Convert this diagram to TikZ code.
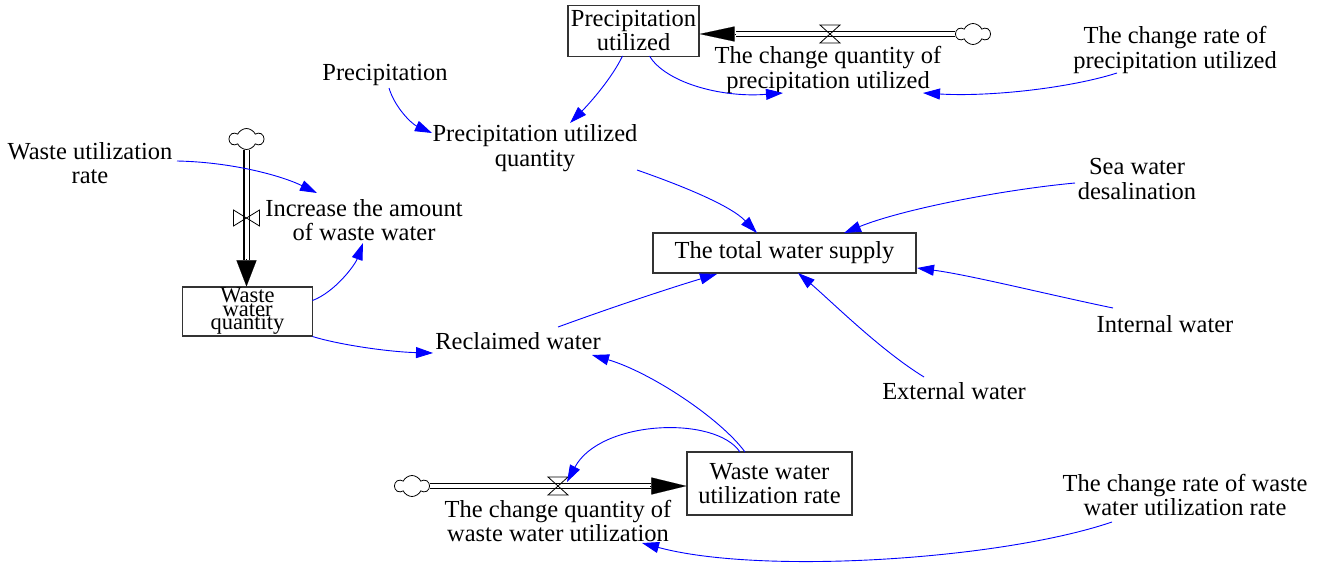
\documentclass[tikz,border=0pt]{standalone}
\usepackage{fontspec}
\setmainfont{Liberation Serif}
\usetikzlibrary{arrows.meta,shapes.symbols}
\tikzset{
  valveH/.pic={\draw[line width=0.8pt] (-10,-9)--(10,-9)--(-10,9)--(10,9)--cycle;},
  valveV/.pic={\draw[line width=0.8pt] (-13,-8)--(-13,8)--(13,-8)--(13,8)--cycle;}
}
\begin{document}
\begin{tikzpicture}[x=1pt,y=-1pt,
  lbl/.style={align=center,inner sep=0pt,font={\fontsize{24.5}{24.5}\selectfont\lineskiplimit=-100pt}},
  stock/.style={draw=black!80,line width=1.2pt,align=center,inner sep=0pt,font={\fontsize{24.5}{24}\selectfont\lineskiplimit=-100pt}},
  link/.style={draw=blue,line width=0.9pt,-{Triangle[length=17pt,width=11pt]}},
  pipe/.style={draw=black,double=white,double distance=4pt,line width=1.1pt},
  cloudsrc/.style={cloud,cloud puffs=6,cloud puff arc=130,draw,line width=0.8pt,minimum width=34pt,minimum height=21pt,inner sep=0pt,aspect=1.6}
]
\fill[white] (0,0) rectangle (1324,562);
\useasboundingbox (0,0) rectangle (1324,562);

% nodes
\node[stock,minimum width=131pt,minimum height=51pt] (pu) at (633.5,31) {Precipitation\\utilized};
\node[cloudsrc] (cloudT) at (973,34) {};
\node[lbl] (cqp) at (828,70) {The change quantity of\\precipitation utilized};
\node[lbl] (crp) at (1175,50) {The change rate of\\precipitation utilized};
\node[lbl] (prec) at (385,75) {Precipitation};
\node[lbl] (puq) at (535,148) {Precipitation utilized\\quantity};
\node[lbl] (wur) at (90,163) {Waste utilization\\rate};
\node[cloudsrc] (cloudL) at (246.5,139) {};
\node[lbl] (inc) at (364,220) {Increase the amount\\of waste water};
\node[stock,minimum width=130pt,minimum height=49pt,font={\fontsize{22.5}{13.5}\selectfont\lineskiplimit=-100pt}] (wwq) at (247.5,311.5) {Waste\\water\\quantity};
\node[lbl] (rec) at (518,341) {Reclaimed water};
\node[stock,minimum width=263pt,minimum height=40pt] (tws) at (784.5,253) {The total water supply};
\node[lbl] (sea) at (1137,179) {Sea water\\desalination};
\node[lbl] (intw) at (1165,324) {Internal water};
\node[lbl] (extw) at (954,391) {External water};
\node[stock,minimum width=165pt,minimum height=63pt] (wwur) at (769.5,483.5) {Waste water\\utilization rate};
\node[cloudsrc] (cloudB) at (412,486) {};
\node[lbl] (cqw) at (558,521) {The change quantity of\\waste water utilization};
\node[lbl] (crw) at (1185,495) {The change rate of waste\\water utilization rate};

% flows (pipes)
\coordinate (tipT) at (pu.east |- cloudT.west);
\draw[pipe] (cloudT.west) -- ([shift={(36,0)}]tipT);
\draw[-{Triangle[length=35pt,width=15pt]},line width=0.1pt] ([shift={(36,0)}]tipT) -- (tipT);
\coordinate (vT) at (830,34);
\pic at (vT) {valveH};

\coordinate (tipL) at (cloudL.south |- wwq.north);
\draw[pipe] (cloudL.south) -- ([shift={(0,-26)}]tipL);
\draw[-{Triangle[length=26pt,width=20pt]},line width=0.1pt] ([shift={(0,-27)}]tipL) -- (tipL);
\coordinate (vL) at (246.5,218);
\pic at (vL) {valveV};

\coordinate (tipB) at (cloudB.east -| wwur.west);
\draw[pipe] (cloudB.east) -- ([shift={(-35,0)}]tipB);
\draw[-{Triangle[length=35pt,width=17pt]},line width=0.1pt] ([shift={(-36,0)}]tipB) -- (tipB);
\coordinate (vB) at (558,486);
\pic at (vB) {valveH};

% information links
\draw[link] ([shift={(4,13)}]prec.center) .. controls (395,108) and (412,124) .. ([shift={(-103,-15)}]puq.center);
\draw[link] ([shift={(-11,25)}]pu.center) .. controls (612,78) and (590,103) .. ([shift={(35,-25)}]puq.center);
\draw[link] ([shift={(16,25)}]pu.center) .. controls (665,82) and (720,98) .. ([shift={(-45,23)}]cqp.center);
\draw[link] ([shift={(-58,23)}]crp.center) .. controls (1070,88) and (990,97) .. ([shift={(95,23)}]cqp.center);
\draw[link] ([shift={(87,-2)}]wur.center) .. controls (230,162) and (280,175) .. ([shift={(-47,-27)}]inc.center);
\draw[link] ([shift={(65,-11)}]wwq.center) .. controls (335,292) and (355,265) .. ([shift={(-1,23)}]inc.center);
\draw[link] ([shift={(65,25)}]wwq.center) .. controls (340,345) and (390,352) .. ([shift={(-85,12)}]rec.center);
\draw[link] ([shift={(102,22)}]puq.center) .. controls (680,185) and (730,205) .. ([shift={(-27.5,-20)}]tws.center);
\draw[link] ([shift={(-62,4)}]sea.center) .. controls (1000,190) and (900,210) .. ([shift={(59.5,-20)}]tws.center);
\draw[link] ([shift={(-52,-16)}]intw.center) .. controls (1050,295) and (970,275) .. ([shift={(132.5,15)}]tws.center);
\draw[link] ([shift={(-30,-14)}]extw.center) .. controls (880,350) and (830,300) .. ([shift={(13.5,20)}]tws.center);
\draw[link] ([shift={(40,-14)}]rec.center) .. controls (610,308) and (670,288) .. ([shift={(-67.5,21)}]tws.center);
\draw[link] ([shift={(-24.5,-31.5)}]wwur.center) .. controls (720,418) and (650,372) .. ([shift={(74,14)}]rec.center);
\draw[link] ([shift={(-29.5,-31.5)}]wwur.center) .. controls (715,415) and (600,420) .. ([shift={(9,-4)}]vB);
\draw[link] ([shift={(-73,27)}]crw.center) .. controls (1000,560) and (760,575) .. ([shift={(84,22)}]cqw.center);
\end{tikzpicture}
\end{document}
